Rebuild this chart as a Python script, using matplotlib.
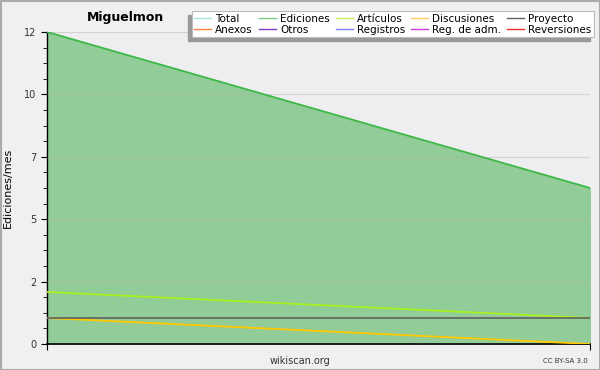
import numpy as np
import matplotlib
matplotlib.use('Agg')
import matplotlib.pyplot as plt
from matplotlib.patches import Rectangle
from matplotlib.lines import Line2D

months = [0, 1]
total = [12, 6]
ediciones = [12, 6]
articulos = [2, 1]
discusiones = [1, 0]
proyecto = [1, 1]

legend_names = ['Total', 'Ediciones', 'Artículos', 'Discusiones', 'Proyecto',
                'Anexos', 'Otros', 'Registros', 'Reg. de adm.', 'Reversiones']
legend_colors = ['#a8e4e0', '#80c888', '#c8f060', '#ffd060', '#606060',
                 '#ff8040', '#8040c8', '#8080f0', '#d040e0', '#e83030']

fig = plt.figure(figsize=(6, 3.7), dpi=100, facecolor='#f0f0f0')
ax = fig.add_axes([47/600, 26/370, 543/600, 312/370])
ax.set_facecolor('#eeeef0')

ax.plot(months, total, color='#a8e4e0', lw=1, zorder=1.5)
ax.fill_between(months, ediciones, color='#92cc98', zorder=2)
ax.plot(months, ediciones, color='#40b848', lw=1.3, zorder=3)
ax.plot(months, articulos, color='#a8f020', lw=1.3, zorder=4)
ax.plot(months, discusiones, color='#ffc800', lw=1.3, zorder=4)
ax.plot(months, proyecto, color='#606060', lw=1.2, zorder=5)

ax.set_xlim(0, 1)
ax.set_ylim(0, 12)
yt = [0, 2.4, 4.8, 7.2, 9.6, 12]
ax.set_yticks(yt)
ax.set_yticklabels(['0', '2', '5', '7', '10', '12'])
ax.set_yticks(np.arange(0, 12.01, 0.6), minor=True)
ax.set_xticks([0, 1])
ax.set_xticklabels([])
ax.tick_params(axis='both', which='major', length=4, labelsize=7, colors='black',
               labelcolor='#333333')
ax.tick_params(axis='y', which='minor', length=3)
ax.set_axisbelow(False)
ax.grid(axis='y', color='#b0b0b0', alpha=0.45, lw=0.8)
for s in ['top', 'right']:
    ax.spines[s].set_visible(False)
ax.spines['left'].set_linewidth(1)
ax.spines['bottom'].set_linewidth(1.2)
ax.set_ylabel('Ediciones/mes', fontsize=8, labelpad=8)

fig.text(125/600, 1 - 18/370, 'Miguelmon', fontsize=9, fontweight='bold',
         ha='center', va='center')
fig.text(300/600, 1 - 361/370, 'wikiscan.org', fontsize=7, ha='center',
         va='center', color='#333333')
fig.text(588/600, 1 - 361/370, 'CC BY-SA 3.0', fontsize=5, ha='right',
         va='center', color='#333333')

# legend, filled row by row
order = [0, 5, 1, 6, 2, 7, 3, 8, 4, 9]
handles = [Line2D([], [], color=legend_colors[i], lw=1) for i in order]
labels = [legend_names[i] for i in order]
leg = fig.legend(handles, labels, ncol=5, loc='upper right',
                 bbox_to_anchor=(594/600, 1 - 11/370), fontsize=7.5,
                 frameon=True, fancybox=False, edgecolor='#bbbbbb',
                 framealpha=1, handlelength=1.6, handletextpad=0.4,
                 columnspacing=0.6, labelspacing=0.1, borderpad=0.25,
                 borderaxespad=0)
leg.get_frame().set_linewidth(0.8)
leg.set_zorder(10)

fig.canvas.draw()
bb = leg.get_window_extent().transformed(fig.transFigure.inverted())
fig.add_artist(Rectangle((bb.x0 - 4/600, bb.y0 - 4/370), bb.width, bb.height,
                         transform=fig.transFigure, color='#999999', zorder=9))

fig.add_artist(Rectangle((0.5/600, 0.5/370), 599/600, 369/370, transform=fig.transFigure,
                         fill=False, edgecolor='#aaaaaa', lw=1.5))

fig.savefig('out.png', dpi=100, facecolor=fig.get_facecolor())
